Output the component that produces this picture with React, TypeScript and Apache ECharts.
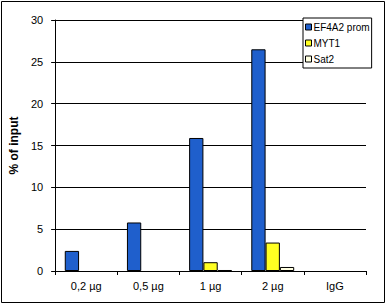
import React, { useEffect, useRef } from "react";
import * as echarts from "echarts";

const categories = ["0,2 µg", "0,5 µg", "1 µg", "2 µg", "IgG"];
const ef4a2 = [2.4, 5.8, 15.9, 26.5, null];
const myt1 = [null, null, 1.05, 3.4, null];
const sat2 = [null, null, 0.12, 0.48, null];
const yTicks = { min: 0, max: 30, interval: 5 };

const FONT = "'Liberation Sans', Arial, sans-serif";

export default function App() {
  const ref = useRef<HTMLDivElement>(null);
  useEffect(() => {
    document.body.style.margin = "0";
    const chart = echarts.init(ref.current!, null, { renderer: "svg" });
    const barBase = {
      type: "bar" as const,
      barGap: "0%",
      barWidth: 14.3,
    };
    chart.setOption({
      animation: false,
      backgroundColor: "#ffffff",
      textStyle: { fontFamily: FONT },
      grid: { left: 46, right: 21, top: 20, bottom: 34 },
      legend: {
        orient: "vertical",
        left: 303,
        top: 18,
        width: 63,
        padding: [3, 2, 3, 2],
        itemGap: 4,
        itemWidth: 6,
        itemHeight: 6,
        itemStyle: { borderColor: "#000", borderWidth: 1 },
        backgroundColor: "#ffffff",
        borderColor: "#000",
        borderWidth: 1,
        icon: "rect",
        textStyle: { fontSize: 10, color: "#000", fontFamily: FONT, lineHeight: 12, padding: [0, 0, 0, -3] },
        data: ["EF4A2 prom", "MYT1", "Sat2"],
      },
      xAxis: {
        type: "category",
        data: categories,
        axisLine: { lineStyle: { color: "#000", width: 1 } },
        axisTick: { show: true, length: 4, alignWithLabel: false, lineStyle: { color: "#000" } },
        axisLabel: { fontSize: 11, color: "#000", margin: 9, interval: 0, fontFamily: FONT },
        splitLine: { show: false },
      },
      yAxis: {
        type: "value",
        min: yTicks.min,
        max: yTicks.max,
        interval: yTicks.interval,
        name: "% of input",
        nameLocation: "middle",
        nameGap: 29,
        nameRotate: 90,
        nameTextStyle: { fontSize: 12, fontWeight: "bold", color: "#000", fontFamily: FONT },
        axisLine: { show: true, lineStyle: { color: "#000", width: 1 } },
        axisTick: { show: true, length: 4, lineStyle: { color: "#000" } },
        axisLabel: { fontSize: 11, color: "#000", margin: 12, fontFamily: FONT },
        splitLine: { show: true, lineStyle: { color: "#000", width: 1 } },
      },
      series: [
        { ...barBase, name: "EF4A2 prom", data: ef4a2, itemStyle: { color: "#1f5fcc", borderColor: "#000", borderWidth: 1 } },
        { ...barBase, name: "MYT1", data: myt1, itemStyle: { color: "#ffff22", borderColor: "#000", borderWidth: 1 } },
        { ...barBase, name: "Sat2", data: sat2, itemStyle: { color: "#ffffe0", borderColor: "#000", borderWidth: 1 } },
      ],
      graphic: [
        {
          type: "rect",
          shape: { x: 1.5, y: 1.5, width: 383, height: 301 },
          style: { fill: "none", stroke: "#000", lineWidth: 1 },
          silent: true,
        },
      ],
    });
    return () => chart.dispose();
  }, []);
  return (
    <div
      ref={ref}
      style={{ position: "absolute", left: 0, top: 0, width: 387, height: 305 }}
    />
  );
}
